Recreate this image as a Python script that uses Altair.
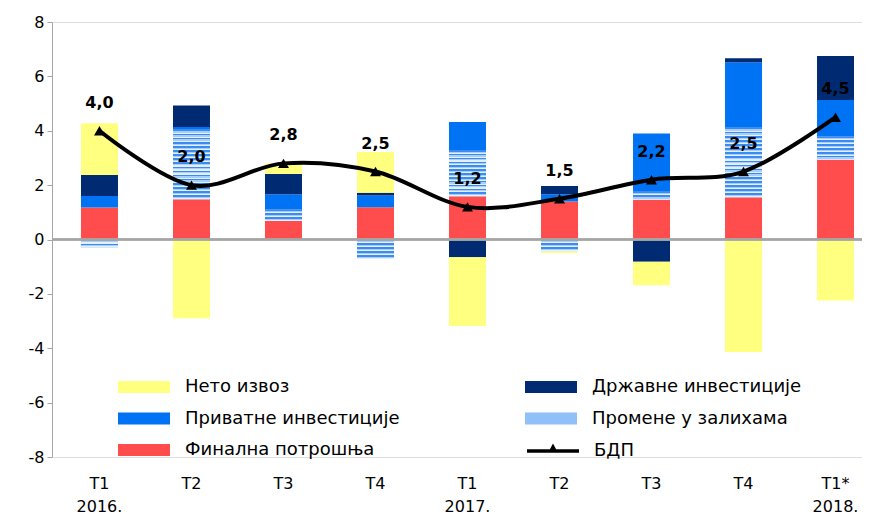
import altair as alt
import pandas as pd

# ---------------- data ----------------
keys = ["2016-T1", "2016-T2", "2016-T3", "2016-T4", "2017-T1",
        "2017-T2", "2017-T3", "2017-T4", "2018-T1"]
quarter_labels = ["T1", "T2", "T3", "T4", "T1", "T2", "T3", "T4", "T1*"]
year_labels = ["2016.", "", "", "", "2017.", "", "", "", "2018."]

final_consumption = [1.18, 1.48, 0.68, 1.19, 1.59, 1.40, 1.46, 1.55, 2.93]
inventory_change = [-0.30, 2.56, 0.43, -0.72, 1.70, -0.43, 0.32, 2.56, 0.87]
private_investment = [0.42, 0.10, 0.55, 0.43, 1.03, 0.26, 2.12, 2.41, 1.33]
government_investment = [0.77, 0.79, 0.75, 0.10, -0.65, 0.31, -0.82, 0.15, 1.62]
net_exports = [1.91, -2.90, 0.39, 1.50, -2.53, -0.07, -0.86, -4.14, -2.24]
gdp = [4.0, 2.0, 2.8, 2.5, 1.2, 1.5, 2.2, 2.5, 4.5]

S_FIN = "Финална потрошња"
S_INV = "Промене у залихама"
S_PRI = "Приватне инвестиције"
S_GOV = "Државне инвестиције"
S_NET = "Нето извоз"
S_GDP = "БДП"

stack_order = [S_FIN, S_INV, S_PRI, S_GOV, S_NET]
series_values = {
    S_FIN: final_consumption,
    S_INV: inventory_change,
    S_PRI: private_investment,
    S_GOV: government_investment,
    S_NET: net_exports,
}
# legend fills column by column: left column first, then right column
legend_order = [S_NET, S_PRI, S_FIN, S_GOV, S_INV]
legend_colors = ["#ffff80", "#0073f5", "#ff4d4d", "#002a72", "#8fc0f7"]

# ---------------- layout constants ----------------
FONT = "DejaVu Sans"
PLOT_W, PLOT_H = 810, 435
PX_PER_UNIT = PLOT_H / 16.0

# ---------------- build stacked table ----------------
rows = []
for i, k in enumerate(keys):
    pos, neg = 0.0, 0.0
    for s in stack_order:
        v = series_values[s][i]
        if v >= 0:
            y0, y1 = pos, pos + v
            pos = y1
        else:
            y0, y1 = neg, neg + v
            neg = y1
        rows.append({"key": k, "series": s, "y0": y0, "y1": y1, "v": v})
bars = pd.DataFrame(rows)

line_df = pd.DataFrame({
    "key": keys,
    "gdp": gdp,
    "series": [S_GDP] * len(keys),
    "label": [f"{v:.1f}".replace(".", ",") for v in gdp],
})

# ---------------- scales / axes ----------------
x_label_expr = (
    "[" + ",".join(
        "[" + ",".join(f"'{t}'" for t in ([q, y] if y else [q])) + "]"
        for q, y in zip(quarter_labels, year_labels)
    ) + "][indexof([" + ",".join(f"'{k}'" for k in keys) + "], datum.value)]"
)

x_scale = alt.Scale(domain=keys, paddingInner=0.598, paddingOuter=0.201, align=0.784)
y_scale = alt.Scale(domain=[-8, 8], nice=False, zero=False)

x_enc = alt.X(
    "key:N", scale=x_scale, sort=keys,
    axis=alt.Axis(
        title=None, domain=False, ticks=False, labelAngle=0,
        labelExpr=x_label_expr, labelFont=FONT, labelFontSize=16,
        labelColor="black", labelLineHeight=23, labelPadding=18,
        labelBaseline="top",
    ),
)
y_axis = alt.Axis(
    title=None, values=list(range(-8, 9, 2)), grid=False,
    domain=True, domainColor="#a6a6a6", domainWidth=1,
    ticks=True, tickColor="#a6a6a6", tickSize=5,
    labelFont=FONT, labelFontSize=16, labelColor="black", labelPadding=3,
    labelExpr="datum.value + ''", minExtent=40, maxExtent=40,
)

# ---------------- layers ----------------
# wide legend swatch drawn from a small nominal symbol size
SYM_SIZE = 400
legend_rect = "M-2.6,-0.6H2.6V0.6H-2.6Z"
bar_layer = alt.Chart(bars).mark_bar().encode(
    x=x_enc,
    y=alt.Y("y0:Q", scale=y_scale, axis=y_axis),
    y2="y1:Q",
    color=alt.Color(
        "series:N",
        scale=alt.Scale(domain=legend_order, range=legend_colors),
        legend=alt.Legend(
            title=None, orient="none", legendX=82, legendY=355, columns=2,
            symbolType=legend_rect, symbolSize=SYM_SIZE, symbolStrokeWidth=0,
            labelFont=FONT, labelFontSize=18, labelColor="black",
            labelOffset=31, labelLimit=400, rowPadding=12.5, columnPadding=125,
        ),
    ),
)


def stripes(n):
    stops = []
    for k in range(n):
        a = k / n
        b = (k + 0.4) / n
        c = (k + 0.7) / n
        d = (k + 1) / n
        stops += [
            {"offset": a, "color": "#3b8cf2"},
            {"offset": b, "color": "#3b8cf2"},
            {"offset": b, "color": "#a9cff9"},
            {"offset": c, "color": "#a9cff9"},
            {"offset": c, "color": "#e4effd"},
            {"offset": d, "color": "#e4effd"},
        ]
    return alt.LinearGradient(gradient="linear", x1=0, x2=0, y1=0, y2=1, stops=stops)


stripe_layers = []
inv_rows = bars[bars["series"] == S_INV]
for _, r in inv_rows.iterrows():
    n = max(2, int(round(abs(r["v"]) * PX_PER_UNIT / 4.0)))
    stripe_layers.append(
        alt.Chart(bars).transform_filter(
            (alt.datum.series == S_INV) & (alt.datum.key == r["key"])
        ).mark_bar(color=stripes(n)).encode(
            x=alt.X("key:N", scale=x_scale, sort=keys),
            y=alt.Y("y0:Q", scale=y_scale),
            y2="y1:Q",
        )
    )

zero_rule = alt.Chart(line_df).mark_rule(color="#a6a6a6", strokeWidth=1.5).encode(
    y=alt.datum(0)
)

gdp_legend_symbol = "M-2.6,-0.18H2.6V0.18H-2.6Z M-0.5,0.18L0,-0.75L0.5,0.18Z"
line_layer = alt.Chart(line_df).mark_line(
    interpolate="cardinal", strokeWidth=4
).encode(
    x=alt.X("key:N", scale=x_scale, sort=keys),
    y=alt.Y("gdp:Q", scale=y_scale),
    color=alt.Color(
        "series:N",
        scale=alt.Scale(domain=[S_GDP], range=["black"]),
        legend=alt.Legend(
            title=None, orient="none", legendX=491, legendY=419,
            symbolType=gdp_legend_symbol, symbolSize=SYM_SIZE,
            symbolFillColor="black", symbolStrokeWidth=0,
            labelFont=FONT, labelFontSize=18, labelColor="black", labelOffset=31,
        ),
    ),
)

point_layer = alt.Chart(line_df).mark_point(
    shape="triangle-up", filled=True, size=120, color="black", opacity=1
).encode(
    x=alt.X("key:N", scale=x_scale, sort=keys),
    y=alt.Y("gdp:Q", scale=y_scale),
)

text_layer = alt.Chart(line_df).mark_text(
    dy=-28, font=FONT, fontSize=16, fontWeight="bold", color="black"
).encode(
    x=alt.X("key:N", scale=x_scale, sort=keys),
    y=alt.Y("gdp:Q", scale=y_scale),
    text="label:N",
)

chart = alt.layer(
    bar_layer, *stripe_layers, zero_rule, line_layer, point_layer, text_layer
).resolve_scale(color="independent").properties(
    width=PLOT_W, height=PLOT_H,
    autosize=alt.AutoSizeParams(type="none"),
    padding={"left": 44, "top": 14, "right": 0, "bottom": 57},
    background="white",
).configure_view(stroke=None).configure(font=FONT)

chart.save("out.html", embed_options={"renderer": "svg", "actions": False})
